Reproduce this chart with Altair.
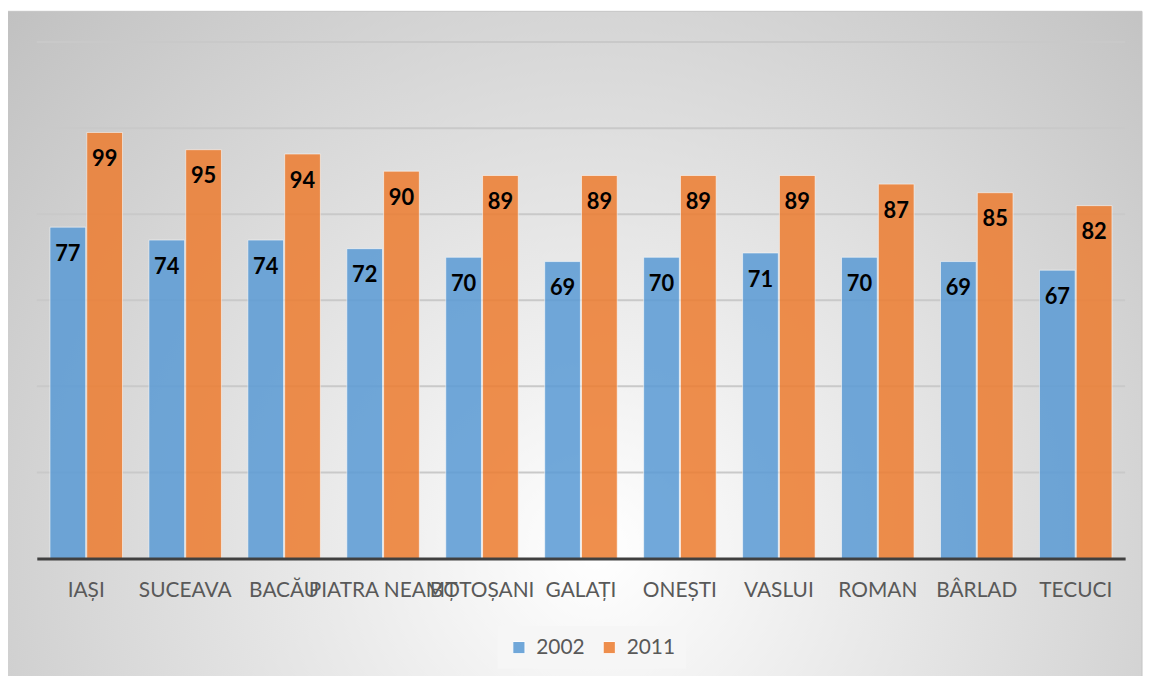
import altair as alt
import pandas as pd

cities = ["IAȘI", "SUCEAVA", "BACĂU", "PIATRA NEAMȚ", "BOTOȘANI", "GALAȚI",
          "ONEȘTI", "VASLUI", "ROMAN", "BÂRLAD", "TECUCI"]
v2002 = [77, 74, 74, 72, 70, 69, 70, 71, 70, 69, 67]
v2011 = [99, 95, 94, 90, 89, 89, 89, 89, 87, 85, 82]
years = ["2002", "2011"]
grid_vals = [20, 40, 60, 80, 100, 120]

rows = []
for c, a, b in zip(cities, v2002, v2011):
    rows.append({"city": c, "year": years[0], "value": a})
    rows.append({"city": c, "year": years[1], "value": b})
df = pd.DataFrame(rows)
grid_df = pd.DataFrame({"g": grid_vals})
bg_df = pd.DataFrame({"k": [0]})

W, H = 1096, 520
FONT = "Lato"

bg = alt.Chart(bg_df).mark_rect(
    fill={
        "gradient": "radial",
        "x1": 0.52, "y1": 0.68, "r1": 0,
        "x2": 0.52, "y2": 0.68, "r2": 0.78,
        "stops": [
            {"offset": 0, "color": "#ffffff"},
            {"offset": 1, "color": "#bababa"},
        ],
    },
    stroke="#c4c4c4",
    strokeWidth=1,
).encode(
    x=alt.value(-30), x2=alt.value(1113),
    y=alt.value(-31), y2=alt.value(642),
)

yscale = alt.Scale(domain=[0, 120], nice=False)

grid = alt.Chart(grid_df).mark_rule(color="#c9c9c9", strokeWidth=2).encode(
    y=alt.Y("g:Q", scale=yscale, axis=None),
    x=alt.value(0), x2=alt.value(W),
)

xaxis = alt.Axis(
    title=None, ticks=False, labelAngle=0, labelOverlap=False,
    labelFont=FONT, labelFontSize=21, labelColor="#595959",
    labelPadding=21, domainColor="#404040", domainWidth=3, zindex=1,
    labelLimit=0,
)

xenc = alt.X("city:N", sort=cities, axis=xaxis,
             scale=alt.Scale(paddingInner=0.267, paddingOuter=0.133))
xoff = alt.XOffset("year:N", sort=years, scale=alt.Scale(paddingInner=0.03))

bars = alt.Chart(df).mark_bar(
    opacity=0.86, stroke="#ffffff", strokeOpacity=0.6, strokeWidth=1,
).encode(
    x=xenc,
    xOffset=xoff,
    y=alt.Y("value:Q", scale=yscale, axis=None),
    color=alt.Color(
        "year:N", sort=years,
        scale=alt.Scale(domain=years, range=["#5B9BD5", "#ED7D31"]),
        legend=alt.Legend(
            title=None, orient="none", direction="horizontal",
            legendX=464, legendY=588,
            symbolType="square", symbolSize=150, symbolOpacity=0.86,
            symbolStrokeColor="#ffffff", symbolStrokeWidth=1,
            labelFont=FONT, labelFontSize=21, labelColor="#595959",
            columnPadding=14, labelOffset=7,
            fillColor="#f6f6f6", padding=11,
        ),
    ),
)

labels = alt.Chart(df).mark_text(
    font=FONT, fontSize=22, fontWeight="bold", color="#000000",
    baseline="middle", dy=27,
).encode(
    x=xenc,
    xOffset=xoff,
    y=alt.Y("value:Q", scale=yscale, axis=None),
    text=alt.Text("value:Q"),
)

chart = alt.layer(bg, grid, bars, labels).properties(
    width=W, height=H,
    padding={"left": 29, "top": 32, "right": 19, "bottom": 116},
    autosize=alt.AutoSizeParams(type="none"),
    background="#ffffff",
).configure_view(stroke=None)

chart.save("out.html", embed_options={"renderer": "svg", "actions": False})
